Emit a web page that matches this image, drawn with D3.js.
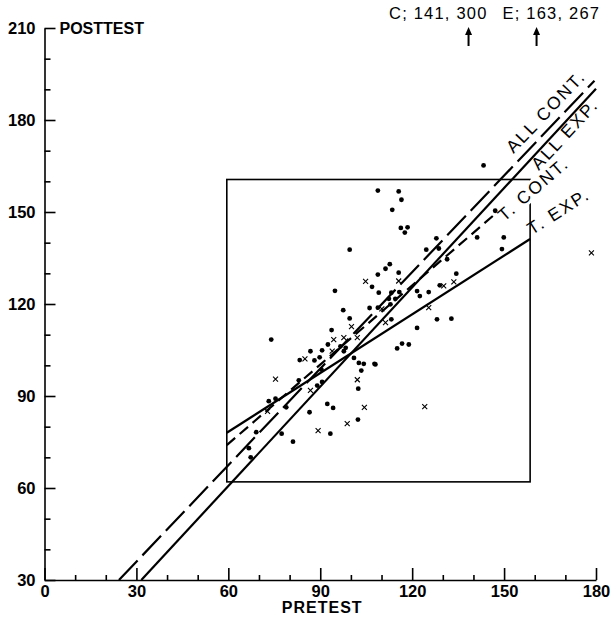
<!DOCTYPE html>
<html><head><meta charset="utf-8">
<script src="https://cdn.jsdelivr.net/npm/d3@7"></script>
<style>
body{margin:0;background:#fff}
text{font-family:"Liberation Sans",Arial,Helvetica,sans-serif;fill:#000}
</style>
</head><body><svg id="c" width="612" height="625"></svg>
<script>
// ---------------- data ----------------
const xTickValues = [0, 30, 60, 90, 120, 150, 180];
const yTickValues = [30, 60, 90, 120, 150, 180, 210];
const xTitle = "PRETEST";
const yTitle = "POSTTEST";

// filled dots [pretest, posttest]
const dotPoints = [
  [108.8,157.0],[115.6,156.7],[116.5,154.0],[113.5,150.7],[116.3,144.8],[118.5,145.0],[117.6,143.3],
  [99.6,137.7],[127.9,141.4],[124.6,137.7],[128.7,138.1],[131.4,134.6],[141.2,141.7],[147.1,150.4],
  [149.9,141.7],[149.3,137.9],[143.3,165.2],[108.8,129.6],[106.9,125.6],[109.1,123.7],[94.8,124.3],
  [106.1,118.7],[97.5,118.0],[99.6,115.3],[93.7,111.5],[111.3,131.5],[112.7,133.0],[115.6,130.2],
  [113.2,123.7],[115.8,123.9],[112.4,121.7],[112.9,119.9],[114.5,121.7],[121.6,124.2],[125.4,123.9],
  [122.5,122.6],[129.0,126.1],[134.4,129.9],[113.2,115.0],[128.1,115.0],[132.8,115.2],[121.6,112.2],
  [115.1,105.5],[116.7,107.1],[118.9,106.8],[108.0,100.3],[74.0,108.4],[92.5,106.8],[90.6,104.9],
  [86.8,104.6],[89.8,102.6],[88.1,101.6],[83.3,101.7],[96.6,106.2],[98.3,105.7],[97.7,104.6],
  [101.0,102.4],[102.6,100.8],[104.2,100.5],[107.7,100.5],[103.4,98.3],[102.4,92.4],[83.0,95.1],
  [90.4,98.6],[89.0,93.4],[73.2,88.3],[75.4,89.1],[78.9,86.3],[86.5,84.7],[92.3,87.4],[94.2,86.1],
  [102.3,82.3],[93.3,77.7],[77.4,77.7],[81.1,75.1],[66.7,73.0],[67.3,70.0],[69.1,78.2],[90.6,94.6],
  [108.8,118.8]
];
// crosses [pretest, posttest]
const crossPoints = [
  [104.8,127.4],[100.2,112.6],[115.6,127.5],[130.3,125.9],[133.6,127.2],[125.4,118.8],[111.3,113.9],
  [124.1,86.5],[94.4,108.4],[97.7,109.0],[102.1,109.0],[93.9,104.6],[85.0,102.1],[102.1,95.3],
  [75.4,95.5],[86.8,91.8],[104.4,86.3],[98.8,81.0],[89.3,78.7],[72.8,85.0],[178.5,136.7],[110.1,118.4]
];

// regression lines: name, start [pre, post], end [pre, post]
const lineNames = ["ALL CONT.", "ALL EXP.", "T. CONT.", "T. EXP."];
const lineStarts = [[24.3,30],[31.6,30],[59.5,74.0],[59.5,78.0]];
const lineEnds   = [[179.5,192.8],[180,190.2],[149,151],[158.5,141.2]];

// reference box
const boxPretest = [59.5, 158.5];
const boxPosttest = [62, 160.6];

// off-scale cases
const offscaleLabels = ["C; 141, 300", "E; 163, 267"];
const offscaleArrowPretest = [138.4, 160.6];

// ---------------- drawing ----------------
const svg = d3.select("#c");
const x = d3.scaleLinear().domain([0,180]).range([44.5,596]);
const y = d3.scaleLinear().domain([30,210]).range([580,28]);

const lineStyle = {
  "ALL CONT.": {dash:"27,7"},
  "ALL EXP.": {dash:null},
  "T. CONT.": {dash:"11,6"},
  "T. EXP.": {dash:null}
};
const labelPlace = { // pretest along the line where label starts, perpendicular offset px
  "ALL CONT.": {at:155.0, off:-8},
  "ALL EXP.": {at:158.0, off:14},
  "T. CONT.": {at:147.5, off:12},
  "T. EXP.": {at:159.5, off:-2}
};

// axes
const gx = svg.append("g").attr("transform",`translate(0,${y(30)})`);
gx.call(d3.axisBottom(x).tickValues(d3.range(0,181,10).filter(v=>v%30)).tickSize(-5).tickFormat(""));
gx.call(g=>g.select(".domain").remove());
const gx2 = svg.append("g").attr("transform",`translate(0,${y(30)})`);
gx2.call(d3.axisBottom(x).tickValues(xTickValues).tickSize(-12).tickSizeOuter(0).tickPadding(5));

const gy = svg.append("g").attr("transform",`translate(${x(0)},0)`);
gy.call(d3.axisLeft(y).tickValues(d3.range(30,211,10).filter(v=>v%30)).tickSize(-6).tickFormat(""));
gy.call(g=>g.select(".domain").remove());
const gy2 = svg.append("g").attr("transform",`translate(${x(0)},0)`);
gy2.call(d3.axisLeft(y).tickValues(yTickValues).tickSize(-11).tickSizeOuter(0).tickPadding(9));
svg.selectAll(".tick text").attr("font-size",16.5).attr("font-weight","bold")
  .style("font-family","'Liberation Sans', Arial, sans-serif");
svg.selectAll(".domain, .tick line").attr("stroke","#000").attr("stroke-width",1.6);

svg.append("text").attr("x", (x(0)+x(180))/2+2).attr("y", 613)
  .attr("text-anchor","middle").attr("font-size",16).attr("font-weight","bold")
  .attr("letter-spacing",1).text(xTitle);
svg.append("text").attr("x", x(0)+15).attr("y", y(210)).attr("dy","0.36em")
  .attr("font-size",16).attr("font-weight","bold").text(yTitle);

// box
svg.append("rect")
  .attr("x", x(boxPretest[0])).attr("y", y(boxPosttest[1]))
  .attr("width", x(boxPretest[1])-x(boxPretest[0]))
  .attr("height", y(boxPosttest[0])-y(boxPosttest[1]))
  .attr("fill","none").attr("stroke","#000").attr("stroke-width",1.6);

// lines
const lineGen = d3.line().x(d=>x(d[0])).y(d=>y(d[1]));
lineNames.forEach((name,i)=>{
  svg.append("path").attr("d", lineGen([lineStarts[i], lineEnds[i]]))
    .attr("fill","none").attr("stroke","#000").attr("stroke-width",2.2)
    .attr("stroke-dasharray", lineStyle[name].dash);
});

// line labels
lineNames.forEach((name,i)=>{
  const s = lineStarts[i], e = lineEnds[i];
  const slope = (e[1]-s[1])/(e[0]-s[0]);
  const p = labelPlace[name];
  const post = s[1] + slope*(p.at - s[0]);
  const ang = Math.atan2(y(post + slope) - y(post), x(p.at+1) - x(p.at)) * 180/Math.PI;
  const g = svg.append("g").attr("transform", `translate(${x(p.at)},${y(post)}) rotate(${ang})`);
  const t = g.append("text").attr("y", p.off).attr("font-size",17.5)
    .attr("letter-spacing",2).text(name);
  if (name === "T. CONT.") {
    const bb = t.node().getBBox();
    g.insert("rect","text").attr("x",bb.x-1).attr("y",bb.y+1).attr("width",bb.width+2)
      .attr("height",bb.height-2).attr("fill","#fff");
  }
});

// points
svg.append("g").selectAll("circle").data(dotPoints).join("circle")
  .attr("cx", d=>x(d[0])).attr("cy", d=>y(d[1])).attr("r",2.4).attr("fill","#000");
const timesSym = d3.symbolTimes || d3.symbolCross;
svg.append("g").selectAll("path").data(crossPoints).join("path")
  .attr("transform", d=>`translate(${x(d[0])},${y(d[1])})`)
  .attr("d", d3.symbol().type(timesSym).size(18))
  .attr("fill","none").attr("stroke","#000").attr("stroke-width",1.1);

// off-scale annotations
offscaleLabels.forEach((lab,i)=>{
  const ax = x(offscaleArrowPretest[i]);
  svg.append("line").attr("x1",ax).attr("x2",ax).attr("y1",46).attr("y2",33)
    .attr("stroke","#000").attr("stroke-width",2);
  svg.append("path").attr("d", d3.line()([[ax-3.5,35],[ax,27],[ax+3.5,35]]) + "Z").attr("fill","#000");
});
svg.append("text").attr("x", x(offscaleArrowPretest[0]) + 19).attr("y", 19)
  .attr("text-anchor","end").attr("font-size",16.5).attr("letter-spacing",1.2).text(offscaleLabels[0]);
svg.append("text").attr("x", x(offscaleArrowPretest[1]) - 34).attr("y", 19)
  .attr("font-size",16.5).attr("letter-spacing",1.2).text(offscaleLabels[1]);
</script>
</body></html>
